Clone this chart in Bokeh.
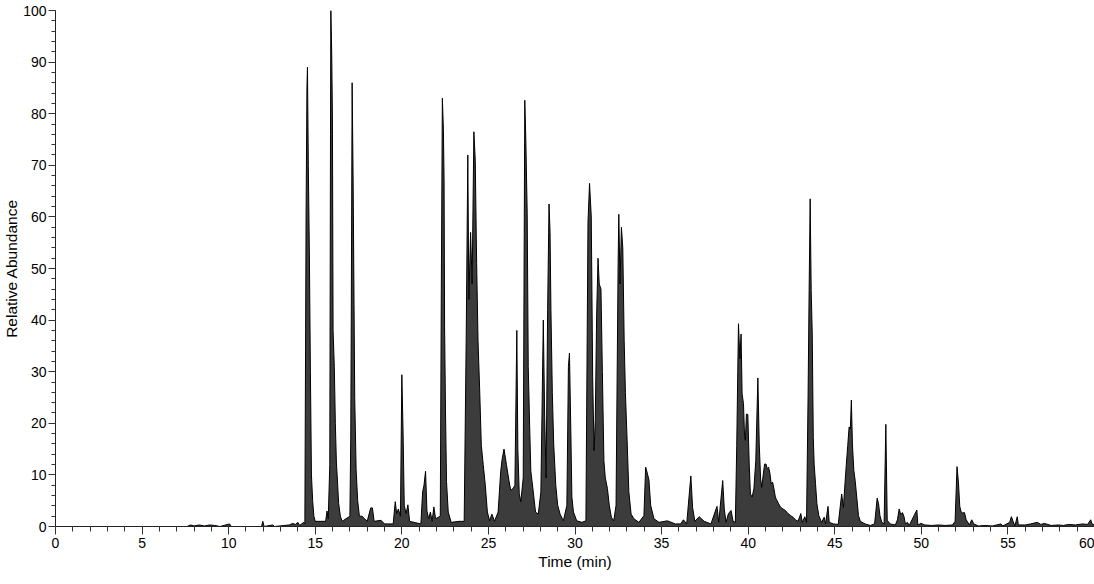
from bokeh.plotting import figure
from bokeh.models import Range1d, FixedTicker, ColumnDataSource
from bokeh.embed import file_html
from bokeh.resources import INLINE

# Chromatogram points (time in min, relative abundance in %)
time_min = [
    0, 7.6, 7.8, 8.0, 8.3, 8.6, 8.9, 9.2, 9.5, 10.05, 10.15, 11.9, 11.97, 12.05,
    12.55, 12.65, 13.5, 13.7, 13.85, 14.0, 14.1, 14.33,
    14.40, 14.47, 14.52, 14.55, 14.60, 14.66, 14.72, 14.78, 14.85, 14.92, 15.0,
    15.60, 15.68, 15.75, 15.84, 15.88, 15.90, 15.95, 15.99, 16.03, 16.10, 16.16,
    16.22, 16.28, 16.35, 16.45, 16.55,
    17.00, 17.05, 17.08, 17.13, 17.19, 17.24, 17.28, 17.36, 17.45, 17.55,
    17.7, 17.85, 18.0, 18.2, 18.3, 18.4, 18.8, 19.0,
    19.5, 19.62, 19.7, 19.8, 19.92, 20.0, 20.07, 20.14, 20.25, 20.35, 20.45, 20.7,
    21.1, 21.2, 21.28, 21.37, 21.45, 21.55, 21.65, 21.75, 21.85, 21.95,
    22.22, 22.28, 22.34, 22.40, 22.44, 22.47, 22.52, 22.58, 22.68, 22.85,
    23.3, 23.6, 23.72, 23.81, 23.87, 23.97, 24.06, 24.16, 24.24, 24.32, 24.40,
    24.49, 24.59, 24.70, 24.82, 24.94, 25.07, 25.2, 25.35,
    25.56, 25.71, 25.79, 25.90, 26.04, 26.18, 26.29, 26.43, 26.53, 26.64, 26.70,
    26.78, 26.87, 27.01, 27.10, 27.16, 27.24, 27.30, 27.38, 27.45, 27.59, 27.72,
    27.88, 28.03, 28.17, 28.25, 28.33, 28.42, 28.50, 28.56, 28.61, 28.69, 28.77,
    28.89, 29.0, 29.14, 29.33, 29.53, 29.62, 29.68, 29.76, 29.82, 29.91, 30.1,
    30.4, 30.63, 30.75, 30.84, 30.94, 31.02, 31.10, 31.17, 31.25, 31.33, 31.40,
    31.50, 31.58, 31.67, 31.75, 31.87, 31.98, 32.1, 32.24, 32.37, 32.49, 32.53,
    32.60, 32.68, 32.76, 32.84, 32.91, 33.01, 33.11, 33.24, 33.40, 33.69, 33.98,
    34.08, 34.17, 34.27, 34.37, 34.56, 34.85, 35.33, 35.8, 36.1, 36.26, 36.45,
    36.69, 36.79, 36.92, 37.17, 37.46, 37.85, 38.2, 38.3, 38.53, 38.62, 38.72,
    38.86, 39.01, 39.13, 39.26, 39.34, 39.40, 39.44, 39.52, 39.59, 39.65, 39.73,
    39.79, 39.84, 39.90, 39.98, 40.06, 40.13, 40.23, 40.33, 40.44, 40.56, 40.64,
    40.72, 40.79, 40.87, 40.95, 41.03, 41.10, 41.18, 41.26, 41.33, 41.41, 41.49,
    41.57, 41.64, 41.76, 41.88, 42.01, 42.15, 42.30, 42.46, 42.59, 42.73, 42.88,
    43.04, 43.13, 43.27, 43.37, 43.46, 43.52, 43.58, 43.64, 43.70, 43.76, 43.81,
    43.89, 43.97, 44.08, 44.24, 44.39, 44.47, 44.61, 44.68, 44.92, 45.2, 45.4,
    45.5, 45.59, 45.67, 45.75, 45.83, 45.90, 45.96, 46.02, 46.10, 46.18, 46.27,
    46.37, 46.48, 46.75, 47.05, 47.3, 47.45, 47.53, 47.61, 47.72, 47.85, 47.95,
    48.03, 48.2, 48.5, 48.62, 48.72, 48.81, 48.91, 49.0, 49.08, 49.2, 49.3,
    49.74, 49.8, 49.98, 50.2, 50.6, 51.0, 51.4, 51.8, 51.95, 52.06, 52.14, 52.22,
    52.29, 52.39, 52.49, 52.59, 52.78, 52.91, 53.03, 53.3, 53.7, 54.1, 54.6,
    54.7, 55.1, 55.2, 55.3, 55.4, 55.54, 55.6, 56.0, 56.3, 56.7, 56.9, 57.1,
    57.5, 57.9, 58.2, 58.5, 58.9, 59.3, 59.6, 59.78, 59.86, 60.0,
]
rel_abundance = [
    0, 0, 0.3, 0.1, 0.3, 0.1, 0.3, 0.2, 0, 0.5, 0, 0, 1, 0,
    0.3, 0, 0.3, 0.6, 0.4, 0.8, 0.2, 0.8,
    0.5, 60, 85, 89, 70, 53, 30, 10, 5, 2, 1,
    1, 3, 1.5, 12, 76, 100, 92, 80, 38, 31, 20,
    12.5, 9, 4.5, 2, 1,
    2, 17, 40, 86, 66, 43, 25, 11, 5, 2,
    2, 1.5, 1, 3.6, 3.6, 1, 1.2, 0.5,
    0.5, 4.8, 2.5, 3.4, 2, 29.4, 18.6, 4, 2.5, 4.2, 1, 0.8,
    0.5, 6.7, 8, 10.7, 3, 1.5, 2.8, 1, 3.8, 1.5,
    2, 46, 83, 77, 67, 38.5, 22.6, 8.7, 2.8, 0.8,
    1, 1, 37.5, 72, 44, 57, 47, 76.5, 71, 51, 36,
    27, 15.7, 12, 8, 2.8, 1.1, 2.4, 1,
    2.8, 10.7, 13, 15, 12, 9, 7, 7.4, 8, 38, 15,
    6.4, 4.8, 9.4, 82.6, 75, 60.6, 31, 19.6, 10.7, 6.7, 2.8,
    2.4, 6.7, 40, 21, 9.4, 42, 62.5, 57, 42, 26, 16,
    8, 4.1, 2.4, 1.1, 4.1, 31, 33.6, 18.3, 5.7, 2.8, 1.1,
    0.8, 1.1, 59, 66.5, 60, 29, 14.7, 20.6, 41, 52, 47,
    46, 30, 12.7, 9.4, 7.4, 4.1, 1.8, 1.1, 4.1, 51, 60.5,
    47, 58, 54, 36, 26, 16.7, 6.7, 2.4, 1.5, 0.8, 2.1,
    11.5, 10.4, 9, 4.1, 1.5, 0.8, 1.1, 0.5, 0.5, 1.3, 0.5,
    9.8, 3.7, 1, 1.9, 1, 0.5, 3.9, 0.8, 8.9, 3.4, 0.8,
    2.5, 3.1, 1, 0.8, 15.7, 30, 39.3, 32.5, 37.3, 25.7, 23.8,
    17.6, 16.7, 21.8, 21.7, 12.1, 6.3, 5.7, 7.3, 12.8, 28.8, 16,
    9.2, 7.6, 10.1, 12.1, 12.1, 11.2, 11.5, 10.2, 8.3, 8.6, 7.3,
    5.7, 5.2, 4.4, 3.7, 3.4, 3.1, 2.5, 2.1, 1.8, 1.3, 1,
    2.5, 0.8, 1.9, 0.8, 25.4, 45.7, 63.5, 45.7, 37.3, 17.3, 12.1,
    8.3, 4.4, 2.1, 0.8, 1.8, 0.5, 3.9, 0.8, 0.5, 0.4, 6.3,
    3.7, 8.3, 12.1, 15.7, 19.3, 18.9, 24.5, 16, 10.9, 8.9, 5.7,
    2.1, 1, 0.5, 0.2, 0.5, 5.5, 4.4, 2.1, 0.8, 0.5, 19.8,
    1.2, 0.5, 0.3, 1.3, 3.4, 2.3, 2.7, 1.9, 0.5, 0.8, 0.2,
    3.2, 0.3, 0.6, 0.3, 0.2, 0.3, 0.2, 0.3, 1, 11.6, 8.7, 3.9,
    2.9, 2.6, 2.7, 1.3, 0.3, 1.3, 0.5, 0.1, 0.2, 0.1, 0.5,
    0.1, 0.8, 1.9, 1, 0.1, 1.9, 0.3, 0.3, 0.5, 0.8, 0.4, 0.6,
    0.2, 0.3, 0.2, 0.4, 0.3, 0.5, 0.4, 1.3, 0.5, 0.3,
]

x_ticks = [0, 5, 10, 15, 20, 25, 30, 35, 40, 45, 50, 55, 60]
y_ticks = [0, 10, 20, 30, 40, 50, 60, 70, 80, 90, 100]

src = ColumnDataSource(dict(t=time_min, a=rel_abundance, z=[0] * len(time_min)))

p = figure(width=1094, height=578, output_backend="svg", toolbar_location=None,
           x_range=Range1d(0, 60), y_range=Range1d(0, 100),
           min_border_left=55, min_border_right=0, min_border_top=10,
           min_border_bottom=52)
p.outline_line_color = None
p.xgrid.grid_line_color = None
p.ygrid.grid_line_color = None
p.background_fill_color = "white"
p.border_fill_color = "white"

p.varea(x="t", y1="z", y2="a", source=src, fill_color="#3c3c3c")
p.line(x="t", y="a", source=src, line_color="black", line_width=1)

font = "Liberation Sans"
for ax in (p.xaxis[0], p.yaxis[0]):
    ax.axis_line_color = "#222222"
    ax.major_tick_line_color = "#333333"
    ax.minor_tick_line_color = "#333333"
    ax.major_tick_in = 0
    ax.minor_tick_in = 0
    ax.major_label_text_font = font
    ax.major_label_text_font_size = "14px"
    ax.major_label_text_color = "black"
    ax.axis_label_text_font = font
    ax.axis_label_text_font_size = "15.5px"
    ax.axis_label_text_font_style = "normal"
    ax.axis_label_text_color = "black"

p.xaxis.ticker = FixedTicker(ticks=x_ticks, minor_ticks=list(range(0, 61)))
p.yaxis.ticker = FixedTicker(ticks=y_ticks, minor_ticks=list(range(0, 101, 2)))
p.xaxis.major_tick_out = 8
p.xaxis.minor_tick_out = 5
p.yaxis.major_tick_out = 7
p.yaxis.minor_tick_out = 4
p.xaxis.major_label_standoff = 3
p.yaxis.major_label_standoff = 2
p.xaxis.axis_label = "Time (min)"
p.xaxis.axis_label_standoff = 2
p.yaxis.axis_label = "Relative Abundance"
p.yaxis.axis_label_standoff = 0

open("out.html", "w").write(file_html(p, INLINE))
